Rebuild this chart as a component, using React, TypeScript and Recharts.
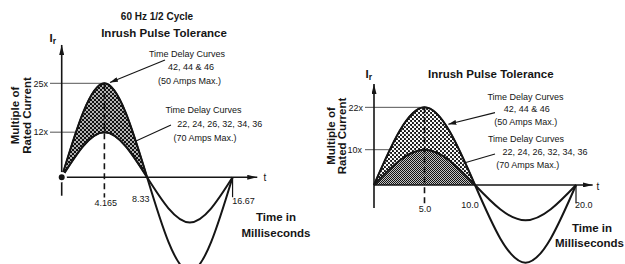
import React from 'react';
import { ComposedChart, Line, Area, XAxis, YAxis, ReferenceLine, ReferenceDot } from 'recharts';

// ---------- data: left panel (60 Hz) ----------
const leftTime = [0, 4.165, 8.33, 12.5, 16.67];
const leftUpper = [0, 25, 0, -25, 0];
const leftLower = [0, 12, 0, -12, 0];
const leftXTickValues = [4.165, 8.33, 16.67];
const leftXTickLabels = ['4.165', '8.33', '16.67'];
const leftYTickValues = [25, 12];
const leftYTickLabels = ['25x', '12x'];

// ---------- data: right panel (50 Hz) ----------
const rightTime = [0, 5, 10, 15, 20];
const rightUpper = [0, 22, 0, -22, 0];
const rightLower = [0, 10, 0, -10, 0];
const rightXTickValues = [5, 10, 20];
const rightXTickLabels = ['5.0', '10.0', '20.0'];
const rightYTickValues = [22, 10];
const rightYTickLabels = ['22x', '10x'];

const FONT = '"Liberation Sans", Arial, Helvetica, sans-serif';
const INK = '#151515';

type PanelCfg = {
  left: number; width: number; height: number;
  xDomain: [number, number]; yDomain: [number, number];
  time: number[]; upper: number[]; lower: number[];
  bandFill: string; underFill: string | null;
  xTickValues: number[]; xTickLabels: string[]; xTickOff: [number, number, string][];
  yTickValues: number[]; yTickLabels: string[]; yTickOff: [number, number][];
  levelStart: number; levelEnds: number[];
  yAxisSeg: [number, number][]; xAxisSeg: [number, number][];
  dashBottom: number; endTick: [number, number];
  arrowSeg: [number, number][]; leaderSeg: [number, number][];
};

const leftCfg: PanelCfg = {
  left: 0, width: 320, height: 264,
  xDomain: [-6.0195, 25.2], yDomain: [-23.059, 47.154],
  time: leftTime, upper: leftUpper, lower: leftLower,
  bandFill: 'url(#dotsL)', underFill: null,
  xTickValues: leftXTickValues, xTickLabels: leftXTickLabels,
  xTickOff: [[1.4, 28.7, 'middle'], [-6.3, 24.7, 'middle'], [-0.3, 27.2, 'start']],
  yTickValues: leftYTickValues, yTickLabels: leftYTickLabels,
  yTickOff: [[-13.7, 3.4], [-13.7, 3.2]],
  levelStart: -1.14, levelEnds: [4.165, 1.3],
  yAxisSeg: [[0, -4.9], [0, 35.2]], xAxisSeg: [[0, 0], [19.08, 0]],
  dashBottom: -5.4, endTick: [16.67, -5.3],
  arrowSeg: [[10.08, 31.2], [4.71, 25.2]], leaderSeg: [[10.66, 13.9], [7.25, 9.65]],
};

const rightCfg: PanelCfg = {
  left: 320, width: 305, height: 264,
  xDomain: [-5.3465, 24.851], yDomain: [-22.38, 52.408],
  time: rightTime, upper: rightUpper, lower: rightLower,
  bandFill: 'url(#dotsR)', underFill: 'url(#chk)',
  xTickValues: rightXTickValues, xTickLabels: rightXTickLabels,
  xTickOff: [[0.5, 27, 'middle'], [-5, 23, 'middle'], [-1, 23.5, 'start']],
  yTickValues: rightYTickValues, yTickLabels: rightYTickLabels,
  yTickOff: [[-11, 3.2], [-12, 3.2]],
  levelStart: -0.89, levelEnds: [5, 1.5],
  yAxisSeg: [[0, -6.5], [0, 28.6]], xAxisSeg: [[0, 0], [21.65, 0]],
  dashBottom: -5.5, endTick: [20, -5.1],
  arrowSeg: [[11.98, 20.5], [7.36, 17.2]], leaderSeg: [[11.98, 8.78], [8.84, 6.15]],
};

const seg = (s: [number, number][]) => s.map(([x, y]) => ({ x, y }));

const arrowShape = (id: string, w: number) => (p: any) => (
  <line x1={p.x1} y1={p.y1} x2={p.x2} y2={p.y2} stroke={INK} strokeWidth={w} markerEnd={`url(#${id})`} />
);

const Panel = ({ c }: { c: PanelCfg }) => {
  const lineData = c.time.map((t, i) => ({ t, upper: c.upper[i], lower: c.lower[i] }));
  const half = lineData.slice(0, 3);
  const bandData = half.map((d) => ({ t: d.t, band: [d.lower, d.upper] }));
  const peakT = c.time[1];
  const peakV = c.upper[1];
  return (
    <div style={{ position: 'absolute', left: c.left, top: 0, width: c.width, height: c.height }}>
      <ComposedChart width={c.width} height={c.height} margin={{ top: 0, right: 0, bottom: 0, left: 0 }}>
        <XAxis type="number" dataKey="t" domain={c.xDomain} allowDataOverflow hide />
        <YAxis type="number" domain={c.yDomain} allowDataOverflow hide />
        {c.yTickValues.map((v, i) => (
          <ReferenceLine key={'lv' + i} segment={[{ x: c.levelStart, y: v }, { x: c.levelEnds[i], y: v }]}
            stroke="#555" strokeWidth={1} />
        ))}
        {c.underFill && (
          <Area data={half} dataKey="lower" type="natural" baseValue={0} stroke="none"
            fill={c.underFill} fillOpacity={1} isAnimationActive={false} />
        )}
        <Area data={bandData} dataKey="band" type="natural" stroke={INK} strokeWidth={1.5}
          fill={c.bandFill} fillOpacity={1} isAnimationActive={false} />
        <ReferenceLine segment={seg(c.xAxisSeg)} shape={arrowShape('axisArrow', 1.6)} />
        <ReferenceLine segment={seg(c.yAxisSeg)} shape={arrowShape('axisArrow', 1.6)} />
        <ReferenceLine segment={[{ x: c.endTick[0], y: 0 }, { x: c.endTick[0], y: c.endTick[1] }]}
          stroke={INK} strokeWidth={1.2} />
        <ReferenceLine segment={[{ x: peakT, y: peakV }, { x: peakT, y: c.dashBottom }]}
          stroke={INK} strokeWidth={1.6} strokeDasharray="6 4" />
        <Line data={lineData} dataKey="lower" type="natural" stroke={INK} strokeWidth={2}
          dot={false} activeDot={false} isAnimationActive={false} />
        <Line data={lineData} dataKey="upper" type="natural" stroke={INK} strokeWidth={2}
          dot={false} activeDot={false} isAnimationActive={false} />
        <ReferenceLine segment={seg(c.arrowSeg)} shape={arrowShape('noteArrow', 1.1)} />
        <ReferenceLine segment={seg(c.leaderSeg)} stroke={INK} strokeWidth={1.1} />
        {c.xTickValues.map((v, i) => (
          <ReferenceDot key={'xt' + i} x={v} y={0} r={0}
            shape={(p: any) => (
              <text x={p.cx + c.xTickOff[i][0]} y={p.cy + c.xTickOff[i][1]} textAnchor={c.xTickOff[i][2] as any}
                fontFamily={FONT} fontSize={9} fill={INK}>{c.xTickLabels[i]}</text>
            )} />
        ))}
        {c.yTickValues.map((v, i) => (
          <ReferenceDot key={'yt' + i} x={0} y={v} r={0}
            shape={(p: any) => (
              <text x={p.cx + c.yTickOff[i][0]} y={p.cy + c.yTickOff[i][1]} textAnchor="end"
                fontFamily={FONT} fontSize={9} fill={INK}>{c.yTickLabels[i]}</text>
            )} />
        ))}
      </ComposedChart>
    </div>
  );
};

const T = (props: any) => (
  <text fontFamily={FONT} fill={INK} textAnchor="middle" {...props} />
);

export default function App() {
  return (
    <div style={{ position: 'absolute', left: 0, top: 0, width: 625, height: 264, background: '#fff', overflow: 'hidden' }}>
      <svg width={0} height={0} style={{ position: 'absolute' }}>
        <defs>
          <pattern id="dotsL" width="4" height="4" patternUnits="userSpaceOnUse" patternTransform="translate(2,1)">
            <rect width="4" height="4" fill="#111" />
            <circle cx="1" cy="1" r="0.9" fill="#fff" />
            <circle cx="3" cy="3" r="0.9" fill="#fff" />
          </pattern>
          <pattern id="dotsR" width="4" height="4" patternUnits="userSpaceOnUse">
            <rect width="4" height="4" fill="#111" />
            <circle cx="1" cy="1" r="1.25" fill="#fff" />
            <circle cx="3" cy="3" r="1.25" fill="#fff" />
          </pattern>
          <pattern id="chk" width="2" height="2" patternUnits="userSpaceOnUse">
            <rect width="2" height="2" fill="#c4c4c4" />
            <rect width="1" height="1" fill="#111" />
            <rect x="1" y="1" width="1" height="1" fill="#111" />
          </pattern>
          <marker id="axisArrow" viewBox="0 0 10 5" refX="10" refY="2.5" markerWidth="10" markerHeight="5"
            markerUnits="userSpaceOnUse" orient="auto">
            <path d="M0,0 L10,2.5 L0,5 z" fill={INK} />
          </marker>
          <marker id="noteArrow" viewBox="0 0 8 5" refX="8" refY="2.5" markerWidth="8" markerHeight="5"
            markerUnits="userSpaceOnUse" orient="auto">
            <path d="M0,0 L8,2.5 L0,5 z" fill={INK} />
          </marker>
        </defs>
      </svg>
      <Panel c={leftCfg} />
      <Panel c={rightCfg} />
      <svg width={625} height={264} style={{ position: 'absolute', left: 0, top: 0, pointerEvents: 'none' }}>
        {/* left panel texts */}
        <T x={157} y={19.8} fontSize={10} fontWeight="bold">60 Hz 1/2 Cycle</T>
        <T x={164} y={36.5} fontSize={11.5} fontWeight="bold">Inrush Pulse Tolerance</T>
        <text x={49.5} y={41.7} fontFamily={FONT} fontSize={11.5} fontWeight="bold" fill={INK}>I<tspan fontSize={8.5} dy={2}>r</tspan></text>
        <T transform="translate(18.5,115.5) rotate(-90)" fontSize={11.5} fontWeight="bold">Multiple of</T>
        <T transform="translate(30.5,115.5) rotate(-90)" fontSize={11.5} fontWeight="bold">Rated Current</T>
        <text x={263.5} y={180.7} fontFamily={FONT} fontSize={10} fill={INK}>t</text>
        <T x={276} y={221.3} fontSize={11.5} fontWeight="bold">Time in</T>
        <T x={276} y={236.6} fontSize={11.5} fontWeight="bold">Milliseconds</T>
        <T x={187} y={56.5} fontSize={9}>Time Delay Curves</T>
        <T x={191} y={69.5} fontSize={9}>42, 44 &amp; 46</T>
        <T x={189.5} y={84.3} fontSize={9}>(50 Amps Max.)</T>
        <T x={203.5} y={113.3} fontSize={9}>Time Delay Curves</T>
        <T x={219.7} y={126.5} fontSize={9}>22, 24, 26, 32, 34, 36</T>
        <T x={205} y={140.5} fontSize={9}>(70 Amps Max.)</T>
        {/* right panel texts */}
        <T x={490.8} y={78} fontSize={11.5} fontWeight="bold">Inrush Pulse Tolerance</T>
        <text x={365.5} y={77.5} fontFamily={FONT} fontSize={11.5} fontWeight="bold" fill={INK}>I<tspan fontSize={8.5} dy={2}>r</tspan></text>
        <T transform="translate(334.5,136) rotate(-90)" fontSize={11.5} fontWeight="bold">Multiple of</T>
        <T transform="translate(346,136) rotate(-90)" fontSize={11.5} fontWeight="bold">Rated Current</T>
        <text x={596.5} y={190} fontFamily={FONT} fontSize={10} fill={INK}>t</text>
        <T x={592} y={232.3} fontSize={11.5} fontWeight="bold">Time in</T>
        <T x={589.5} y={247.3} fontSize={11.5} fontWeight="bold">Milliseconds</T>
        <T x={525.5} y={100} fontSize={9}>Time Delay Curves</T>
        <T x={526.7} y={112.3} fontSize={9}>42, 44 &amp; 46</T>
        <T x={525.7} y={125} fontSize={9}>(50 Amps Max.)</T>
        <T x={526} y={141.6} fontSize={9}>Time Delay Curves</T>
        <T x={545} y={155} fontSize={9}>22, 24, 26, 32, 34, 36</T>
        <T x={527.7} y={168.3} fontSize={9}>(70 Amps Max.)</T>
      </svg>
    </div>
  );
}
